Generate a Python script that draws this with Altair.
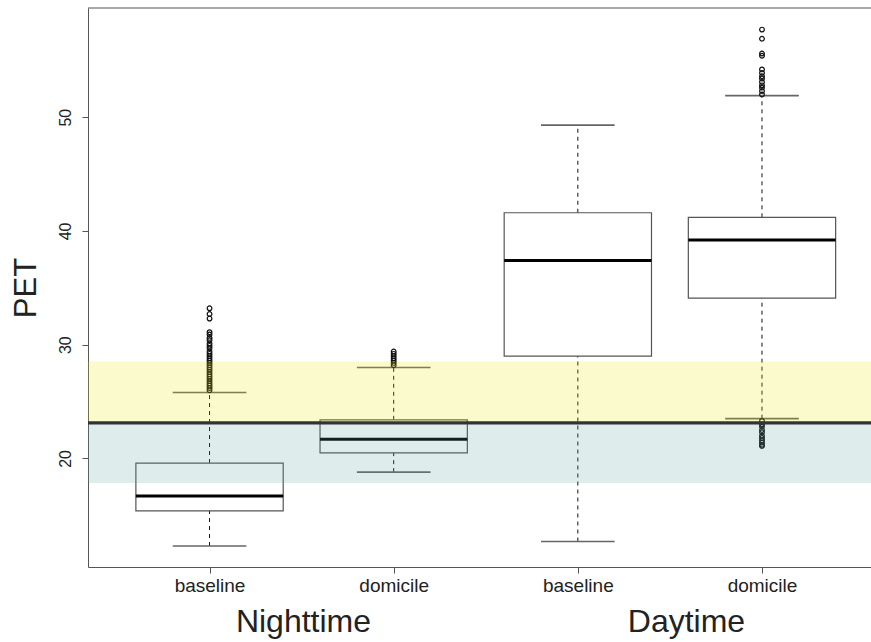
import json
import altair as alt
import pandas as pd

# ---------------- data ----------------
categories = ["baseline", "domicile", "baseline", "domicile"]
positions = [1, 2, 3, 4]
lower_whisker = [12.3, 18.8, 12.7, 23.5]
q1 = [15.4, 20.5, 29.0, 34.1]
median = [16.7, 21.7, 37.4, 39.2]
q3 = [19.6, 23.4, 41.6, 41.2]
upper_whisker = [25.8, 28.0, 49.3, 51.9]

outliers_night_baseline = [33.2, 32.7, 32.3, 31.1, 30.9, 30.6, 30.4, 30.1, 29.9, 29.7,
                           29.4, 29.2, 29.0, 28.8, 28.6, 28.4, 28.2, 28.0, 27.8, 27.6,
                           27.4, 27.2, 27.0, 26.8, 26.6, 26.4, 26.2, 26.0]
outliers_night_domicile = [29.4, 29.2, 29.0, 28.8, 28.6, 28.4, 28.2]
outliers_day_baseline = []
outliers_day_domicile = [57.7, 56.9, 55.6, 55.4, 54.2, 53.9, 53.6, 53.4, 53.1, 52.8,
                         52.6, 52.3, 52.0,
                         23.3, 23.0, 22.8, 22.5, 22.3, 22.0, 21.8, 21.6, 21.4, 21.2, 21.1]

group_labels = ["Nighttime", "Daytime"]
group_label_pos = [1.51, 3.59]

band_low = [17.85, 23.13]
band_high = [23.13, 28.52]
band_names = ["comfortable", "slightly warm"]
threshold = [23.13]

y_ticks = [20, 30, 40, 50]

# ---------------- layout ----------------
W, H = 783, 559
FONT = "Liberation Sans"
x_scale = alt.Scale(domain=[0.34, 4.592], nice=False, zero=False)
y_scale = alt.Scale(domain=[10.46, 59.6], nice=False, zero=False)

boxes = pd.DataFrame({
    "pos": positions, "cat": categories, "lw": lower_whisker, "q1": q1,
    "med": median, "q3": q3, "uw": upper_whisker,
})
out_rows = []
for p, lst in zip(positions, [outliers_night_baseline, outliers_night_domicile,
                              outliers_day_baseline, outliers_day_domicile]):
    for v in lst:
        out_rows.append({"pos": p, "val": v})
outs = pd.DataFrame(out_rows)
bands = pd.DataFrame({"lo": band_low, "hi": band_high, "name": band_names})
thr = pd.DataFrame({"v": threshold})
glab = pd.DataFrame({"pos": group_label_pos, "label": group_labels})

label_expr = "%s[round(datum.value) - 1]" % json.dumps(categories)

x_axis = alt.Axis(values=positions, labelExpr=label_expr, title=None, grid=False,
                  tickSize=6, labelPadding=3, labelFontSize=19, labelFont=FONT,
                  labelColor="#222", domainColor="#555", tickColor="#555")
y_axis = alt.Axis(values=y_ticks, title="PET", grid=False, tickSize=6,
                  labelAngle=270, labelAlign="center", labelBaseline="bottom",
                  labelPadding=9, labelFontSize=16, labelFont=FONT, labelColor="#222",
                  domainColor="#555", tickColor="#555",
                  titleFontSize=31, titleFont=FONT, titleFontWeight="normal",
                  titleColor="#222", titleAngle=270, titleAlign="center",
                  titleBaseline="middle", titleX=-62, titleY=H / 2)

base = alt.Chart(boxes).transform_calculate(
    bl="datum.pos - 0.4", br="datum.pos + 0.4",
    cl="datum.pos - 0.2", cr="datum.pos + 0.2",
)

whisk_up = base.mark_rule(color="#111", strokeWidth=1, strokeDash=[4, 4]).encode(
    x=alt.X("pos:Q", scale=x_scale, axis=x_axis),
    y=alt.Y("q3:Q", scale=y_scale, axis=y_axis),
    y2="uw:Q",
)
whisk_lo = base.mark_rule(color="#111", strokeWidth=1, strokeDash=[4, 4]).encode(
    x=alt.X("pos:Q", scale=x_scale), y=alt.Y("lw:Q", scale=y_scale), y2="q1:Q",
)
cap_up = base.mark_rule(color="#666", strokeWidth=1.6).encode(
    x=alt.X("cl:Q", scale=x_scale), x2="cr:Q", y=alt.Y("uw:Q", scale=y_scale),
)
cap_lo = base.mark_rule(color="#666", strokeWidth=1.6).encode(
    x=alt.X("cl:Q", scale=x_scale), x2="cr:Q", y=alt.Y("lw:Q", scale=y_scale),
)
box = base.mark_rect(fill="white", fillOpacity=0, stroke="#555", strokeWidth=1.2).encode(
    x=alt.X("bl:Q", scale=x_scale), x2="br:Q",
    y=alt.Y("q1:Q", scale=y_scale), y2="q3:Q",
)
med = base.mark_rule(color="#000", strokeWidth=3).encode(
    x=alt.X("bl:Q", scale=x_scale), x2="br:Q", y=alt.Y("med:Q", scale=y_scale),
)
pts = alt.Chart(outs).mark_point(filled=False, color="#111", size=22, strokeWidth=1.2,
                                 opacity=1).encode(
    x=alt.X("pos:Q", scale=x_scale), y=alt.Y("val:Q", scale=y_scale),
)
band_layer = alt.Chart(bands).mark_rect(opacity=0.2).encode(
    x=alt.value(0), x2=alt.value(W),
    y=alt.Y("lo:Q", scale=y_scale), y2="hi:Q",
    color=alt.Color("name:N", scale=alt.Scale(domain=band_names,
                                              range=["#5aa5a0", "#e8e800"]),
                    legend=None),
)
thr_layer = alt.Chart(thr).mark_rule(color="#333", strokeWidth=3.4).encode(
    y=alt.Y("v:Q", scale=y_scale), x=alt.value(0), x2=alt.value(W),
)
top_border = alt.Chart(thr).mark_rule(color="#555", strokeWidth=1).encode(
    x=alt.value(0), x2=alt.value(W), y=alt.value(0),
)
glab_layer = alt.Chart(glab).mark_text(fontSize=32, font=FONT, color="#222",
                                       baseline="middle", align="center").encode(
    x=alt.X("pos:Q", scale=x_scale), y=alt.value(H + 55), text="label:N",
)

chart = alt.layer(
    whisk_up, whisk_lo, cap_up, cap_lo, box, med, pts, band_layer, thr_layer,
    top_border, glab_layer,
).properties(
    width=W, height=H,
    autosize=alt.AutoSizeParams(type="none"),
    padding={"left": 88, "top": 8, "right": 0, "bottom": 75},
    background="white",
).configure_view(stroke=None)

chart.save("out.html", embed_options={"renderer": "svg", "actions": False})
